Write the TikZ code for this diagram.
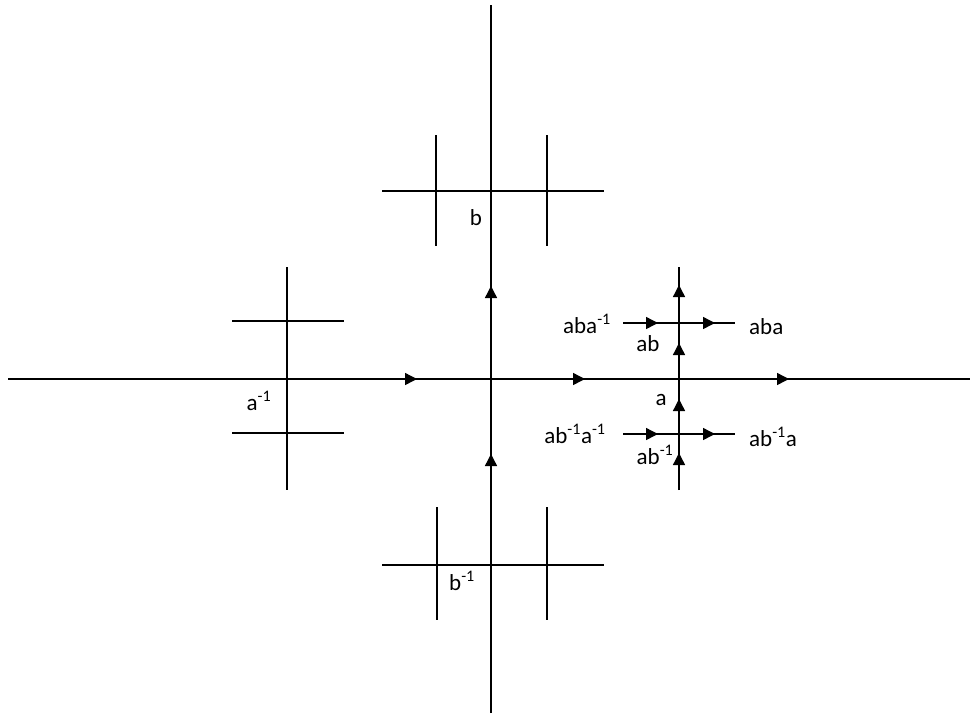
\documentclass[tikz,border=0pt]{standalone}
\usepackage{fontspec}
\setmainfont{Carlito}
\usetikzlibrary{arrows.meta,decorations.markings}
\tikzset{
  ln/.style={line width=1.4pt, black},
  lbl/.style={font=\fontsize{23}{25}\selectfont, inner sep=0pt},
}
\newcommand{\inv}{\textsuperscript{-1}}
\begin{document}
\begin{tikzpicture}[x=1pt,y=-1pt]
\useasboundingbox (0,0) rectangle (971,713);
% coordinates
\coordinate (hL) at (8,379);   \coordinate (hR) at (970,379);
\coordinate (vB) at (491,713); \coordinate (vT) at (491,5);
\coordinate (rB) at (679,490); \coordinate (rT) at (679,267);
\coordinate (u1) at (623,323); \coordinate (u2) at (735,323);
\coordinate (d1) at (623,434); \coordinate (d2) at (735,434);
% main lines with arrows
\draw[ln, postaction={decorate}, decoration={markings,
  mark=at position 409pt with {\arrow{Triangle[length=12pt,width=12pt]}},
  mark=at position 577pt with {\arrow{Triangle[length=12pt,width=12pt]}},
  mark=at position 781pt with {\arrow{Triangle[length=12pt,width=12pt]}}}] (hL) -- (hR);
\draw[ln, postaction={decorate}, decoration={markings,
  mark=at position 259pt with {\arrow{Triangle[length=12pt,width=12pt]}},
  mark=at position 427pt with {\arrow{Triangle[length=12pt,width=12pt]}}}] (vB) -- (vT);
\draw[ln, postaction={decorate}, decoration={markings,
  mark=at position 37pt with {\arrow{Triangle[length=12pt,width=12pt]}},
  mark=at position 91pt with {\arrow{Triangle[length=12pt,width=12pt]}},
  mark=at position 147pt with {\arrow{Triangle[length=12pt,width=12pt]}},
  mark=at position 205pt with {\arrow{Triangle[length=12pt,width=12pt]}}}] (rB) -- (rT);
\draw[ln, postaction={decorate}, decoration={markings,
  mark=at position 35pt with {\arrow{Triangle[length=12pt,width=12pt]}},
  mark=at position 92pt with {\arrow{Triangle[length=12pt,width=12pt]}}}] (u1) -- (u2);
\draw[ln, postaction={decorate}, decoration={markings,
  mark=at position 35pt with {\arrow{Triangle[length=12pt,width=12pt]}},
  mark=at position 92pt with {\arrow{Triangle[length=12pt,width=12pt]}}}] (d1) -- (d2);
% top cluster
\coordinate (t1) at (382,191); \coordinate (t2) at (604,191);
\coordinate (t3) at (436,135); \coordinate (t4) at (436,246);
\coordinate (t5) at (547,135); \coordinate (t6) at (547,246);
\draw[ln] (t1) -- (t2) (t3) -- (t4) (t5) -- (t6);
% bottom cluster
\coordinate (b1) at (382,565); \coordinate (b2) at (604,565);
\coordinate (b3) at (437,507); \coordinate (b4) at (437,620);
\coordinate (b5) at (547,507); \coordinate (b6) at (547,620);
\draw[ln] (b1) -- (b2) (b3) -- (b4) (b5) -- (b6);
% left cluster
\coordinate (l1) at (287,267); \coordinate (l2) at (287,490);
\coordinate (l3) at (232,321); \coordinate (l4) at (344,321);
\coordinate (l5) at (232,433); \coordinate (l6) at (344,433);
\draw[ln] (l1) -- (l2) (l3) -- (l4) (l5) -- (l6);
% labels
\node[lbl] (Lb) at (476,218) {b};
\node[lbl] (Lbi) at (462,581) {b\inv};
\node[lbl] (Lai) at (259,401) {a\inv};
\node[lbl] (Labai) at (587,324) {aba\inv};
\node[lbl, anchor=west] (Laba) at (749,327) {aba};
\node[lbl] (Lab) at (648,344) {ab};
\node[lbl] (La) at (661,400) {a};
\node[lbl] (Labiai) at (575,434) {ab\inv a\inv};
\node[lbl, anchor=west] (Labia) at (749,437) {ab\inv a};
\node[lbl] (Labi) at (655,455) {ab\inv};
\end{tikzpicture}
\end{document}
